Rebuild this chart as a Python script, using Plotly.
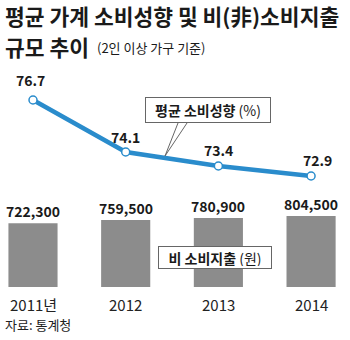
import plotly.graph_objects as go

years = ["2011년", "2012", "2013", "2014"]
propensity = [76.7, 74.1, 73.4, 72.9]
nonconsump = [722300, 759500, 780900, 804500]
prop_labels = ["76.7", "74.1", "73.4", "72.9"]
bar_labels = ["722,300", "759,500", "780,900", "804,500"]

W, H = 350, 340
FONT = "Noto Sans CJK KR"
x_idx = list(range(len(years)))

def px(x):
    return x / W

def py(y):
    return 1 - y / H

fig = go.Figure()
fig.add_trace(go.Bar(
    x=x_idx, y=nonconsump, width=0.53, marker=dict(color="#8c8c8c", line=dict(width=0)),
    yaxis="y", hoverinfo="skip",
))
fig.add_trace(go.Scatter(
    x=x_idx, y=propensity, yaxis="y2", mode="lines+markers",
    line=dict(color="#2a8ccc", width=4.5),
    marker=dict(size=8, color="white", line=dict(color="#2a8ccc", width=1.5)),
    hoverinfo="skip",
))

ann = []
# line value labels
lab_dx = [-0.03, 0.0, 0.0, 0.07]
lab_dy = [20, 15, 16, 16]
for i, (v, t) in enumerate(zip(propensity, prop_labels)):
    ann.append(dict(x=i + lab_dx[i], y=v, xref="x", yref="y2", text=f"<b>{t}</b>", showarrow=False,
                    yshift=lab_dy[i], font=dict(family=FONT, size=14, color="#1a1a1a"),
                    xanchor="center", yanchor="middle"))
# bar value labels
for i, (v, t) in enumerate(zip(nonconsump, bar_labels)):
    ann.append(dict(x=i, y=v, xref="x", yref="y", text=f"<b>{t}</b>", showarrow=False,
                    yshift=12, font=dict(family=FONT, size=14, color="#1a1a1a"),
                    xanchor="center", yanchor="middle"))
# category labels
for i, t in enumerate(years):
    ann.append(dict(x=i, y=py(304), xref="x", yref="paper", text=t, showarrow=False,
                    font=dict(family=FONT, size=15, color="#222"),
                    xanchor="center", yanchor="middle"))

# title
ann.append(dict(x=px(3), y=py(15.8), xref="paper", yref="paper", xanchor="left", yanchor="middle",
                text="<b>평균 가계 소비성향 및 비(非)소비지출</b>", showarrow=False,
                font=dict(family=FONT, size=21.5, color="#1a1a1a")))
ann.append(dict(x=px(3), y=py(47), xref="paper", yref="paper", xanchor="left", yanchor="middle",
                text="<b>규모 추이</b>", showarrow=False,
                font=dict(family=FONT, size=21.5, color="#1a1a1a")))
ann.append(dict(x=px(95), y=py(47.5), xref="paper", yref="paper", xanchor="left", yanchor="middle",
                text="(2인 이상 가구 기준)", showarrow=False,
                font=dict(family=FONT, size=13, color="#1a1a1a")))
# callout boxes
ann.append(dict(x=px(207.5), y=py(110.5), xref="paper", yref="paper", text="<b>평균 소비성향</b> (%)",
                showarrow=False, bgcolor="white", bordercolor="#666", borderwidth=1, borderpad=2,
                font=dict(family=FONT, size=14, color="#1a1a1a"), width=120, height=20,
                xanchor="center", yanchor="middle"))
ann.append(dict(x=px(215), y=py(257.5), xref="paper", yref="paper", text="<b>비 소비지출</b> (원)",
                showarrow=False, bgcolor="white", bordercolor="#666", borderwidth=1, borderpad=2,
                font=dict(family=FONT, size=14, color="#1a1a1a"), width=108, height=17,
                xanchor="center", yanchor="middle"))
# source
ann.append(dict(x=px(3), y=py(324), xref="paper", yref="paper", xanchor="left", yanchor="middle",
                text="자료: 통계청", showarrow=False, font=dict(family=FONT, size=13, color="#222")))

shapes = [dict(type="path", xref="paper", yref="paper",
               path=f"M {px(178)} {py(123)} L {px(165)} {py(156)} L {px(187)} {py(123)}",
               line=dict(color="#666", width=1), fillcolor="white", layer="above")]

px_per_won = 804500 / 71.0
px_per_pct = 20.0
fig.update_layout(
    width=W, height=H, margin=dict(l=0, r=0, t=0, b=0),
    paper_bgcolor="white", plot_bgcolor="white", showlegend=False,
    xaxis=dict(range=[-0.356, 3.42], visible=False, fixedrange=True),
    yaxis=dict(range=[-(H - 287) * px_per_won, 287 * px_per_won], visible=False),
    yaxis2=dict(range=[76.7 - (H - 100) / px_per_pct, 76.7 + 100 / px_per_pct],
                overlaying="y", visible=False),
    annotations=ann, shapes=shapes,
)
fig.write_html("out.html")
